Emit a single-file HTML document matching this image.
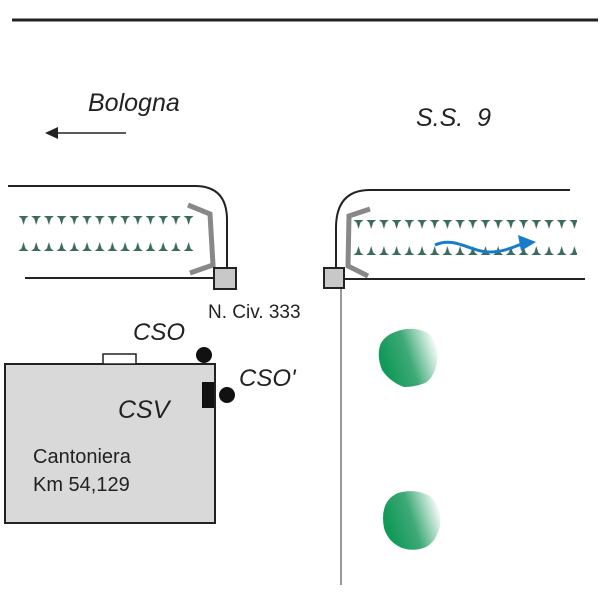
<!DOCTYPE html>
<html><head><meta charset="utf-8"><style>
html,body{margin:0;padding:0;background:#fff;}
svg{display:block;}
text{font-family:"Liberation Sans",sans-serif;fill:#222;}
</style></head><body>
<svg width="600" height="600" viewBox="0 0 600 600" xmlns="http://www.w3.org/2000/svg">
<defs>
<pattern id="dn" x="18" y="216" width="12.7" height="10" patternUnits="userSpaceOnUse">
<path d="M0.5 0 L10.5 0 L7.5 2.5 L5.5 9 L3.5 2.5 Z" fill="#3d6a60"/>
</pattern>
<pattern id="up" x="18" y="242" width="12.7" height="10" patternUnits="userSpaceOnUse">
<path d="M0.5 9 L10.5 9 L7.5 6.5 L5.5 0 L3.5 6.5 Z" fill="#3d6a60"/>
</pattern>
<pattern id="dn2" x="353" y="220" width="12.7" height="10" patternUnits="userSpaceOnUse">
<path d="M0.5 0 L10.5 0 L7.5 2.5 L5.5 9 L3.5 2.5 Z" fill="#3d6a60"/>
</pattern>
<pattern id="up2" x="353" y="246" width="12.7" height="10" patternUnits="userSpaceOnUse">
<path d="M0.5 9 L10.5 9 L7.5 6.5 L5.5 0 L3.5 6.5 Z" fill="#3d6a60"/>
</pattern>
<linearGradient id="tg" x1="0.1" y1="0.6" x2="1" y2="0.3">
<stop offset="0" stop-color="#129a5a"/>
<stop offset="0.45" stop-color="#3fa977"/>
<stop offset="1" stop-color="#ffffff"/>
</linearGradient>
</defs>

<line x1="12" y1="20" x2="598" y2="20" stroke="#222" stroke-width="3"/>

<text x="88" y="111" font-size="25" font-style="italic">Bologna</text>
<line x1="58" y1="133" x2="126" y2="133" stroke="#222" stroke-width="1.5"/>
<path d="M45 133 L58 127 L58 139 Z" fill="#222"/>
<text x="416" y="126" font-size="25" font-style="italic">S.S.&#160;&#160;9</text>

<path d="M8 186 L195 186 Q227 186 227 220 L227 268" fill="none" stroke="#222" stroke-width="2"/>
<line x1="25" y1="278" x2="214" y2="278" stroke="#222" stroke-width="2"/>
<rect x="18" y="216" width="178" height="10" fill="url(#dn)"/>
<rect x="18" y="242" width="178" height="10" fill="url(#up)"/>
<path d="M188 205 L210 214 L213 265 L190 273" fill="none" stroke="#888" stroke-width="5"/>
<rect x="214" y="268" width="22" height="21" fill="#c8c8c8" stroke="#222" stroke-width="2"/>

<path d="M570 190 L370 190 Q336 190 336 228 L336 268" fill="none" stroke="#222" stroke-width="2"/>
<line x1="344" y1="279" x2="585" y2="279" stroke="#222" stroke-width="2"/>
<rect x="353" y="220" width="224" height="10" fill="url(#dn2)"/>
<rect x="353" y="246" width="224" height="10" fill="url(#up2)"/>
<path d="M370 209 L349 216 L348 266 L368 276" fill="none" stroke="#888" stroke-width="5"/>
<rect x="324" y="268" width="20" height="20" fill="#c8c8c8" stroke="#222" stroke-width="2"/>
<line x1="341" y1="289" x2="341" y2="585" stroke="#777" stroke-width="1.5"/>
<path d="M435 245 C455 236 470 252 490 252 C505 252 515 246 522 244" fill="none" stroke="#1a7cc8" stroke-width="3"/>
<path d="M536 242 L518 235 L521 251 Z" fill="#1a7cc8"/>

<text x="208" y="318" font-size="19">N. Civ. 333</text>

<rect x="5" y="364" width="210" height="159" fill="#d9d9d9" stroke="#222" stroke-width="2"/>
<rect x="103" y="354" width="33" height="10" fill="#fff" stroke="#222" stroke-width="1.5"/>
<circle cx="204" cy="355" r="8" fill="#111"/>
<rect x="202" y="382" width="12" height="26" fill="#111"/>
<circle cx="227" cy="395" r="8" fill="#111"/>
<text x="133" y="340" font-size="24" font-style="italic">CSO</text>
<text x="239" y="386" font-size="24" font-style="italic">CSO'</text>
<text x="118" y="418" font-size="25" font-style="italic">CSV</text>
<text x="33" y="463" font-size="20">Cantoniera</text>
<text x="33" y="491" font-size="20">Km 54,129</text>

<path d="M395 332 Q412 325 428 333 Q440 345 437 362 Q434 378 425 383 Q415 387 404 387 Q390 382 382 370 Q376 355 381 343 Q386 335 395 332 Z" fill="url(#tg)"/>
<path d="M398 493 Q415 488 430 496 Q442 508 440 526 Q436 542 426 547 Q414 552 402 548 Q388 542 384 528 Q381 512 387 502 Q391 496 398 493 Z" fill="url(#tg)"/>
</svg>
</body></html>
